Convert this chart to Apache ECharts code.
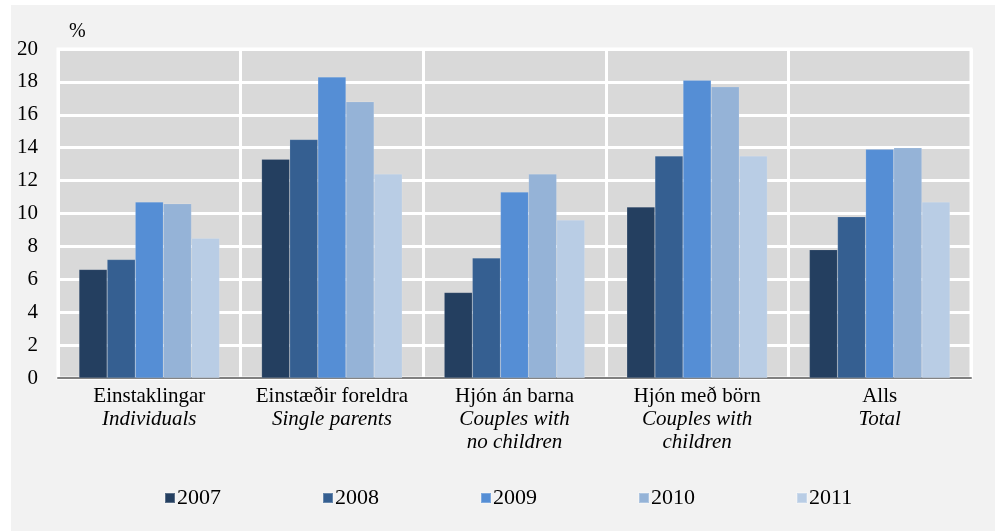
<!DOCTYPE html>
<html>
<head>
<meta charset="utf-8">
<script src="https://cdn.jsdelivr.net/npm/echarts@6/dist/echarts.min.js"></script>
<style>
  body{
    margin: 0;
    background: #ffffff;
  }
  .chart-panel{
    position: absolute;
    left: 11px;
    top: 5px;
    width: 984px;
    height: 526px;
    background: #f2f2f2;
  }
</style>
</head>
<body>
<div class="chart-panel" id="chart"></div>
<script>
  // flokkar: íslenska heiti + enska (skáletrað)
  var categoriesIs = ['Einstaklingar', 'Einstæðir foreldra', 'Hjón án barna', 'Hjón með börn', 'Alls']
  var categoriesEn = ['Individuals', 'Single parents', 'Couples with\nno children', 'Couples with\nchildren', 'Total']
  var years = ['2007', '2008', '2009', '2010', '2011']

  var v2007 = [6.6, 13.3, 5.2, 10.4, 7.8]
  var v2008 = [7.2, 14.5, 7.3, 13.5, 9.8]
  var v2009 = [10.7, 18.3, 11.3, 18.1, 13.9]
  var v2010 = [10.6, 16.8, 12.4, 17.7, 14.0]
  var v2011 = [8.5, 12.4, 9.6, 13.5, 10.7]

  var yTicks = [0, 2, 4, 6, 8, 10, 12, 14, 16, 18, 20]

  var colors = ['#243f60', '#355f91', '#558ed5', '#95b3d7', '#b9cde5']
  var font = '"Liberation Serif", "DejaVu Serif", serif'

  var categories = categoriesIs.map(function (c, i) {
    var en = categoriesEn[i].split('\n').map(function (l) { return '{en|' + l + '}' }).join('\n')
    return '{is|' + c + '}\n' + en
  })

  var values = [v2007, v2008, v2009, v2010, v2011]

  var chart = echarts.init(document.getElementById('chart'))
  chart.setOption({
    animation: false,
    textStyle: { fontFamily: font },
    title: {
      text: '%',
      left: 53,
      top: 12,
      textStyle: { fontFamily: font, fontSize: 20, fontWeight: 'normal', color: '#000' }
    },
    legend: {
      data: years,
      left: 148,
      top: 477,
      icon: 'rect',
      itemWidth: 10,
      itemHeight: 10,
      itemGap: 101,
      textStyle: { fontFamily: font, fontSize: 22, color: '#000', padding: [0, 0, 0, -3] }
    },
    grid: {
      left: 47,
      top: 44,
      right: 24,
      bottom: 153,
      show: true,
      backgroundColor: '#d9d9d9',
      borderColor: '#ffffff',
      borderWidth: 3
    },
    xAxis: {
      type: 'category',
      data: categories,
      axisTick: { show: false },
      axisLine: { lineStyle: { color: '#808080', width: 2 } },
      splitLine: { show: true, lineStyle: { color: '#ffffff', width: 3 } },
      axisLabel: {
        margin: 7,
        interval: 0,
        color: '#000',
        lineHeight: 23,
        rich: {
          is: { fontFamily: font, fontSize: 21, lineHeight: 23, color: '#000' },
          en: { fontFamily: font, fontSize: 21, lineHeight: 23, fontStyle: 'italic', color: '#000' }
        }
      }
    },
    yAxis: {
      type: 'value',
      min: yTicks[0],
      max: yTicks[yTicks.length - 1],
      interval: 2,
      axisLine: { show: false },
      axisTick: { show: false },
      splitLine: { lineStyle: { color: '#ffffff', width: 3 } },
      axisLabel: { margin: 20, fontFamily: font, fontSize: 21, color: '#000' }
    },
    series: years.map(function (y, i) {
      return {
        name: y,
        type: 'bar',
        data: values[i],
        barGap: '0%',
        barCategoryGap: '23%',
        itemStyle: { color: colors[i], borderColor: 'rgba(255,255,255,0.25)', borderWidth: 0.5 }
      }
    })
  })
</script>
</body>
</html>
